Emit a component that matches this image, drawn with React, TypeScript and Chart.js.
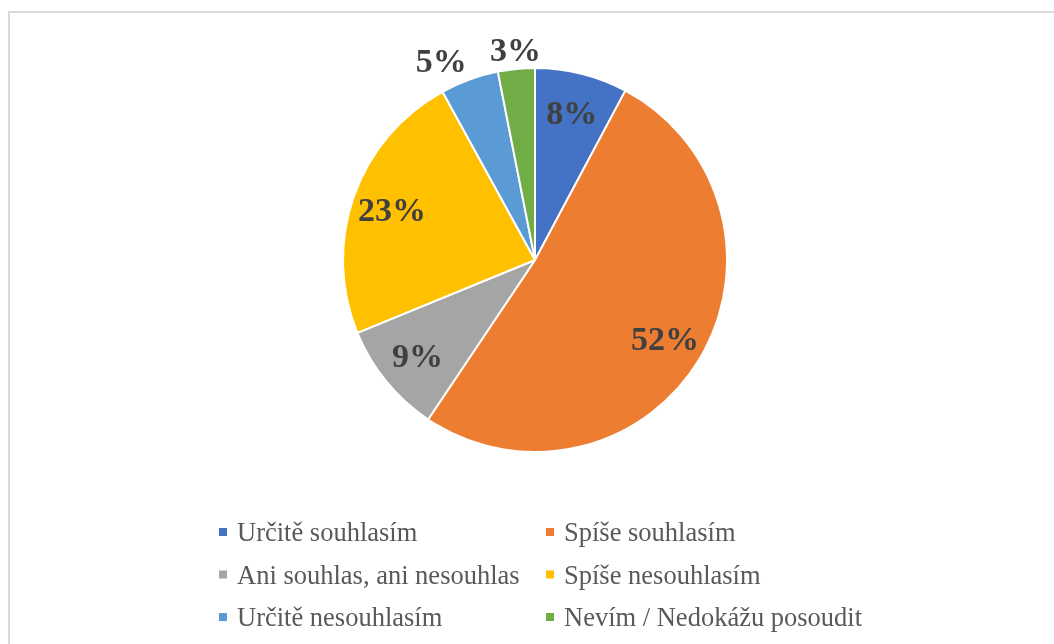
import React, { useEffect, useRef } from "react";
import { Chart, registerables } from "chart.js";

Chart.register(...registerables);

const categories = [
  "Určitě souhlasím",
  "Spíše souhlasím",
  "Ani souhlas, ani nesouhlas",
  "Spíše nesouhlasím",
  "Určitě nesouhlasím",
  "Nevím / Nedokážu posoudit",
];
const shares = [7.8, 51.6, 9.4, 23.2, 4.9, 3.1];
const colors = ["#4472C4", "#ED7D31", "#A5A5A5", "#FFC000", "#5B9BD5", "#70AD47"];

const W = 1054;
const H = 644;

const labelPlugin = {
  id: "pctLabels",
  afterDatasetsDraw(chart: any) {
    const ctx = chart.ctx as CanvasRenderingContext2D;
    const meta = chart.getDatasetMeta(0);
    const data = chart.data.datasets[0].data as number[];
    const total = data.reduce((a, b) => a + b, 0);
    const size = 34;
    ctx.save();
    ctx.font = `bold ${size}px "Liberation Serif", "Times New Roman", serif`;
    ctx.fillStyle = "#404040";
    ctx.textBaseline = "alphabetic";
    const digitH = size * 0.676;
    meta.data.forEach((arc: any, i: number) => {
      const p = arc.getProps(["x", "y", "startAngle", "endAngle", "outerRadius"], true);
      const mid = (p.startAngle + p.endAngle) / 2;
      const pct = (data[i] / total) * 100;
      const text = Math.round(pct) + "%";
      const w = ctx.measureText(text).width;
      const c = Math.cos(mid);
      const s = Math.sin(mid);
      let cx: number, cy: number;
      if (pct >= 6) {
        const r = p.outerRadius * 0.79;
        cx = p.x + c * r;
        cy = p.y + s * r;
      } else {
        const r = p.outerRadius + 8;
        const ax = p.x + c * r;
        const ay = p.y + s * r;
        if (c < -0.2) cx = ax - w / 2;
        else if (c > 0.2) cx = ax + w / 2;
        else cx = ax;
        cy = s < 0 ? ay - digitH / 2 : ay + digitH / 2;
      }
      ctx.textAlign = "center";
      ctx.fillText(text, cx, cy + digitH / 2);
    });
    ctx.restore();
  },
};

const legendPlugin = {
  id: "gridLegend",
  afterDraw(chart: any) {
    const ctx = chart.ctx as CanvasRenderingContext2D;
    const labels = chart.data.labels as string[];
    const bg = chart.data.datasets[0].backgroundColor as string[];
    const colX = [219, 546];
    const baselines = [541, 583.5, 626];
    ctx.save();
    ctx.font = `26.5px "Liberation Serif", "Times New Roman", serif`;
    ctx.textBaseline = "alphabetic";
    ctx.textAlign = "left";
    labels.forEach((lab, i) => {
      const col = i % 2;
      const row = Math.floor(i / 2);
      const x = colX[col];
      const b = baselines[row];
      ctx.fillStyle = bg[i];
      ctx.fillRect(x, b - 13, 8, 8);
      ctx.fillStyle = "#595959";
      ctx.fillText(lab, x + 18, b);
    });
    ctx.restore();
  },
};

export default function App() {
  const ref = useRef<HTMLCanvasElement | null>(null);
  useEffect(() => {
    if (!ref.current) return;
    const chart = new Chart(ref.current, {
      type: "pie",
      data: {
        labels: categories,
        datasets: [
          {
            data: shares,
            backgroundColor: colors,
            borderColor: "#ffffff",
            borderWidth: 2,
          },
        ],
      },
      options: {
        responsive: false,
        animation: false,
        devicePixelRatio: 1,
        layout: { padding: { top: 67, bottom: 191, left: 342, right: 326 } },
        plugins: {
          legend: { display: false },
          tooltip: { enabled: false },
        },
      },
      plugins: [labelPlugin, legendPlugin],
    });
    return () => chart.destroy();
  }, []);
  return (
    <div
      style={{
        position: "fixed",
        left: 0,
        top: 0,
        width: W,
        height: H,
        overflow: "hidden",
        background: "#ffffff",
      }}
    >
      <div
        style={{
          position: "absolute",
          left: 8,
          top: 11,
          width: 1200,
          height: 800,
          border: "2px solid #d9d9d9",
          boxSizing: "border-box",
        }}
      />
      <canvas
        ref={ref}
        width={W}
        height={H}
        style={{ position: "absolute", left: 0, top: 0, width: W, height: H }}
      />
    </div>
  );
}
